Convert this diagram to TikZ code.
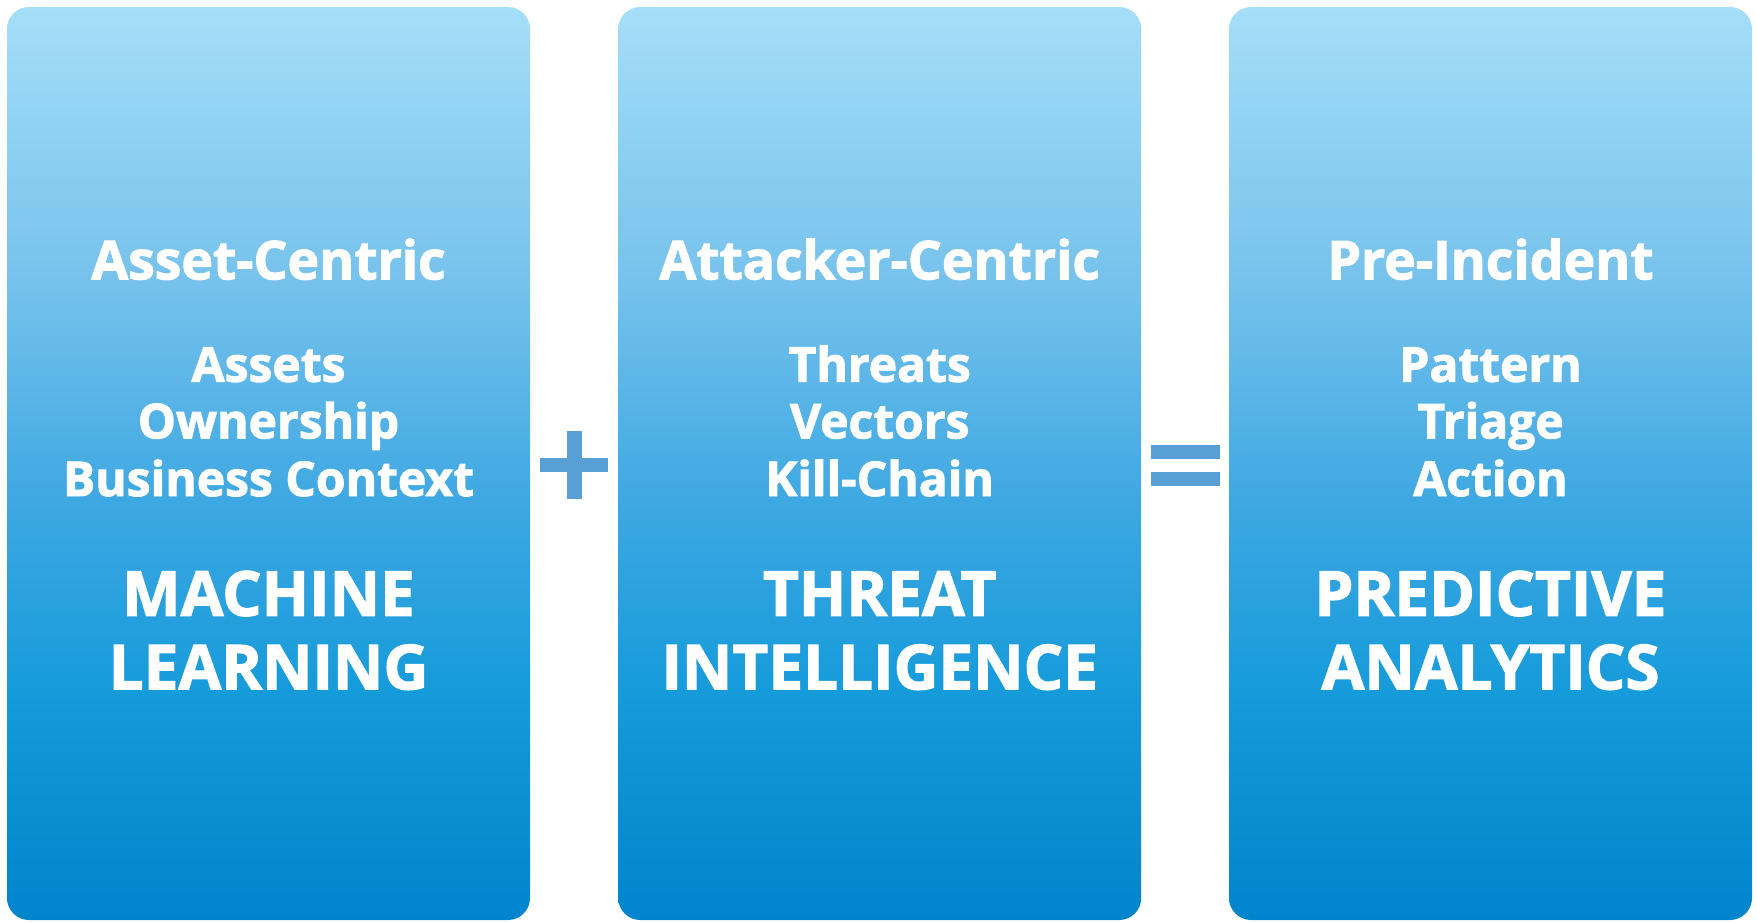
\documentclass[tikz,border=0pt]{standalone}
\usepackage{fontspec}
\setmainfont{Open Sans}[BoldFeatures={FakeBold=2}]
\usetikzlibrary{positioning}
\definecolor{topc}{RGB}{165,222,248}
\definecolor{c2}{RGB}{118,194,236}
\definecolor{c3}{RGB}{62,168,226}
\definecolor{c4}{RGB}{20,154,218}
\definecolor{botc}{RGB}{0,132,204}
\definecolor{opc}{RGB}{87,159,213}
\pgfdeclareverticalshading{boxshade}{100bp}{color(0bp)=(botc); color(25bp)=(botc); color(37bp)=(c4); color(48bp)=(c3); color(60bp)=(c2); color(75bp)=(topc); color(100bp)=(topc)}
\tikzset{
  panel/.style={shading=boxshade, rounded corners=22pt, minimum width=523pt, minimum height=913pt, inner sep=0pt, draw=none},
  title/.style={text=white, font=\bfseries\fontsize{53.5}{60}\selectfont, anchor=base, inner sep=0pt},
  item/.style={text=white, font=\bfseries\fontsize{48}{55}\selectfont, anchor=base, inner sep=0pt},
  big/.style={text=white, font=\bfseries\fontsize{62}{70}\selectfont, anchor=base, inner sep=0pt},
  opbar/.style={fill=opc, draw=none, inner sep=0pt}
}
\begin{document}
\begin{tikzpicture}[x=1pt,y=-1pt]
\useasboundingbox (0,0) rectangle (1757,922);
% panels
\node[panel] (b1) at (268.5,463.5) {};
\node[panel] (b2) at (879.7,463.5) {};
\node[panel] (b3) at (1490.5,463.5) {};
% panel 1
\node[title] (t1) at (268.5,279.3) {Asset-Centric};
\node[item] (i11) at (268.5,381.7) {Assets};
\node[item] (i12) at (268.5,438.3) {Ownership};
\node[item] (i13) at (268.5,496) {Business Context};
\node[big] (g11) at (268.5,615.7) {MACHINE};
\node[big] (g12) at (268.5,689.3) {LEARNING};
% panel 2
\node[title] (t2) at (879.7,279.3) {Attacker-Centric};
\node[item] (i21) at (879.7,381.7) {Threats};
\node[item] (i22) at (879.7,438.3) {Vectors};
\node[item] (i23) at (879.7,496) {Kill-Chain};
\node[big] (g21) at (879.7,615.7) {THREAT};
\node[big] (g22) at (879.7,689.3) {INTELLIGENCE};
% panel 3
\node[title] (t3) at (1490.5,279.3) {Pre-Incident};
\node[item] (i31) at (1490.5,381.7) {Pattern};
\node[item] (i32) at (1490.5,438.3) {Triage};
\node[item] (i33) at (1490.5,496) {Action};
\node[big] (g31) at (1490.5,615.7) {PREDICTIVE};
\node[big] (g32) at (1490.5,689.3) {ANALYTICS};
% operators
\node[opbar, minimum width=68pt, minimum height=14pt] (plush) at (574,465) {};
\node[opbar, minimum width=15pt, minimum height=68pt] (plusv) at (574.5,465) {};
\node[opbar, minimum width=69pt, minimum height=14pt] (eqa) at (1185.5,452) {};
\node[opbar, minimum width=69pt, minimum height=14pt] (eqb) at (1185.5,479) {};
\end{tikzpicture}
\end{document}
